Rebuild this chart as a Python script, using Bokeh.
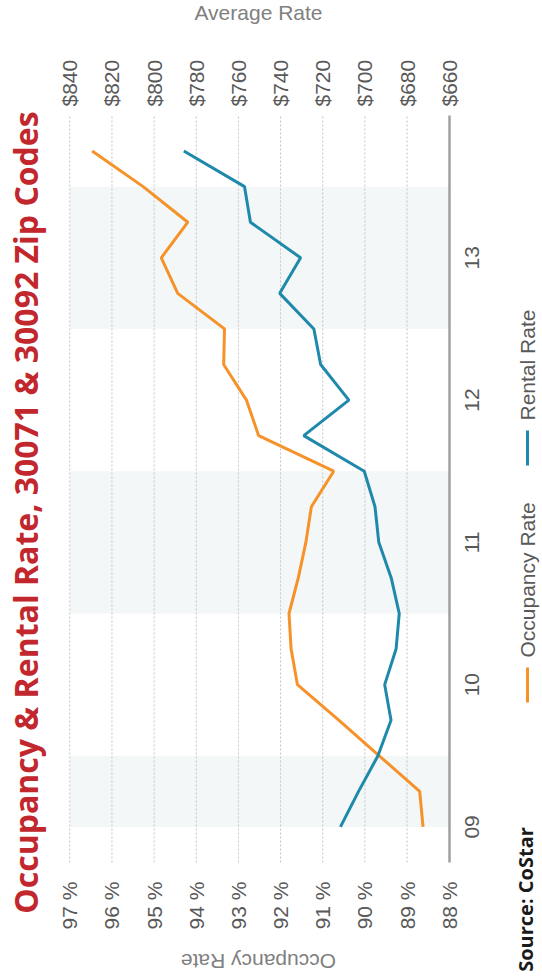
import math
from bokeh.plotting import figure
from bokeh.models import (Range1d, LinearAxis, FixedTicker, PrintfTickFormatter,
                          BoxAnnotation, Label)
from bokeh.core.properties import value
from bokeh.embed import file_html
from bokeh.resources import INLINE

# ---------------- data ----------------
quarters = ["2009 Q1", "2009 Q2", "2009 Q3", "2009 Q4",
            "2010 Q1", "2010 Q2", "2010 Q3", "2010 Q4",
            "2011 Q1", "2011 Q2", "2011 Q3", "2011 Q4",
            "2012 Q1", "2012 Q2", "2012 Q3", "2012 Q4",
            "2013 Q1", "2013 Q2", "2013 Q3", "2013 Q4"]
occupancy_rate = [88.62, 88.70, 89.66, 90.62, 91.60, 91.75, 91.80, 91.58,
                  91.40, 91.27, 90.74, 92.52, 92.81, 93.35, 93.33, 94.44,
                  94.83, 94.20, 95.26, 96.47]
rental_rate = [711.6, 703.0, 693.8, 687.6, 690.6, 685.2, 683.7, 687.5,
               693.4, 695.2, 700.3, 729.0, 707.6, 721.0, 724.2, 740.4,
               730.5, 754.3, 757.1, 785.9]
year_labels = ["09", "10", "11", "12", "13"]
occupancy_ticks = [88, 89, 90, 91, 92, 93, 94, 95, 96, 97]
rate_ticks = [660, 680, 700, 720, 740, 760, 780, 800, 820, 840]
series_names = ["Occupancy Rate", "Rental Rate"]

title_text = "Occupancy & Rental Rate, 30071 & 30092 Zip Codes"
source_text = "Source: CoStar"

ORANGE = "#F5922A"
BLUE = "#1F89AC"
TICK_COLOR = "#595959"
AXIS_TITLE_COLOR = "#808080"
FONT = "Liberation Sans"

# ---------------- layout (the whole canvas is the frame) ----------------
W, H = 542, 976
PL, PR, PT, PB = 69.3, 448.7, 115.0, 862.0     # plot-area edges in px

idx = list(range(len(quarters)))
year_pos = [4 * k for k in range(len(year_labels))]

OCC_HI, OCC_LO = occupancy_ticks[-1], occupancy_ticks[0]
RATE_HI, RATE_LO = rate_ticks[-1], rate_ticks[0]
IDX_LO, IDX_HI = -1, len(quarters)


def occ_at(px):
    return OCC_HI + (px - PL) * (OCC_LO - OCC_HI) / (PR - PL)


def rate_at(px):
    return RATE_HI + (px - PL) * (RATE_LO - RATE_HI) / (PR - PL)


def idx_at(py):
    return IDX_HI + (py - PT) * (IDX_LO - IDX_HI) / (PB - PT)


p = figure(width=W, height=H, output_backend="svg", toolbar_location=None,
           x_range=Range1d(occ_at(0), occ_at(W)),
           y_range=Range1d(idx_at(H), idx_at(0)),
           x_axis_location=None, y_axis_location=None,
           min_border=0, min_border_left=0, min_border_right=0,
           min_border_top=0, min_border_bottom=0)
p.extra_x_ranges = {"rate": Range1d(rate_at(0), rate_at(W))}
p.outline_line_color = None
p.background_fill_color = "white"
p.border_fill_color = "white"
p.grid.visible = False

# alternating year bands (09, 11, 13)
for k in range(0, len(year_labels), 2):
    c = year_pos[k]
    p.add_layout(BoxAnnotation(left=OCC_HI, right=OCC_LO,
                               bottom=max(c - 2, 0), top=c + 2,
                               fill_color="#F4F7F7", fill_alpha=1.0,
                               line_color=None, level="underlay"))

# dotted value grid lines
p.segment(x0=occupancy_ticks[1:], y0=[IDX_LO] * (len(occupancy_ticks) - 1),
          x1=occupancy_ticks[1:], y1=[IDX_HI] * (len(occupancy_ticks) - 1),
          line_color="#C4C4C4", line_width=1, line_dash="2 2")


def style_axis(ax, standoff):
    ax.major_label_orientation = math.pi / 2
    ax.major_label_standoff = standoff
    ax.major_label_text_font = FONT
    ax.major_label_text_font_size = "21px"
    ax.major_label_text_color = TICK_COLOR
    ax.major_tick_line_color = None
    ax.minor_tick_line_color = None


# occupancy axis (bottom of the plot area)
oa = LinearAxis(fixed_location=IDX_LO, bounds=(OCC_LO, OCC_HI),
                ticker=FixedTicker(ticks=occupancy_ticks),
                formatter=PrintfTickFormatter(format="%d %%"))
style_axis(oa, 13)
oa.axis_line_color = None
p.add_layout(oa, "below")

# rate axis (top of the plot area)
ra = LinearAxis(x_range_name="rate", fixed_location=IDX_HI,
                bounds=(RATE_LO, RATE_HI),
                ticker=FixedTicker(ticks=rate_ticks),
                formatter=PrintfTickFormatter(format="$%d"))
style_axis(ra, 3)
ra.axis_line_color = None
p.add_layout(ra, "above")

# time axis line (right edge of the plot area); year labels centred on their ticks
ta = LinearAxis(fixed_location=OCC_LO, bounds=(IDX_LO, IDX_HI),
                ticker=FixedTicker(ticks=[]))
style_axis(ta, 14)
ta.axis_line_color = "#A0A0A0"
ta.axis_line_width = 2.5
p.add_layout(ta, "right")
p.text(x=[occ_at(471)] * len(year_pos), y=year_pos, text=year_labels,
       angle=math.pi / 2, text_align="center", text_baseline="middle",
       text_font=value(FONT), text_font_size="21px", text_color=TICK_COLOR)

# series
p.line(occupancy_rate, idx, line_color=ORANGE, line_width=3)
p.line(rental_rate, idx, line_color=BLUE, line_width=3, x_range_name="rate")

# title (rotated); label anchors sit at the middle of the cap height
p.add_layout(Label(x=occ_at(25), y=idx_at(512), text=title_text, angle=math.pi / 2,
                   text_align="center", text_baseline="alphabetic",
                   text_font="Open Sans", text_font_style="bold",
                   text_font_size="32px", text_color="#C1272D"))

# axis titles
p.add_layout(Label(x=occ_at(258), y=idx_at(12), text="Average Rate",
                   text_align="center", text_baseline="alphabetic",
                   text_font=FONT, text_font_size="21px",
                   text_color=AXIS_TITLE_COLOR))
p.add_layout(Label(x=occ_at(258), y=idx_at(961), text="Occupancy Rate",
                   angle=math.pi, text_align="center", text_baseline="alphabetic",
                   text_font=FONT, text_font_size="21px",
                   text_color=AXIS_TITLE_COLOR))

# legend (rotated)
LEG_X = 527
legend_items = [(series_names[0], ORANGE, 702), (series_names[1], BLUE, 465)]
for name, col, ystart in legend_items:
    p.segment(x0=[occ_at(LEG_X)], y0=[idx_at(ystart)],
              x1=[occ_at(LEG_X)], y1=[idx_at(ystart - 35)],
              line_color=col, line_width=3)
    p.add_layout(Label(x=occ_at(LEG_X), y=idx_at(ystart - 45), text=name,
                       angle=math.pi / 2, text_align="left", text_baseline="middle",
                       text_font=FONT, text_font_size="21px",
                       text_color=TICK_COLOR))

# source
p.add_layout(Label(x=occ_at(525), y=idx_at(899), text=source_text, angle=math.pi / 2,
                   text_align="center", text_baseline="alphabetic",
                   text_font="Open Sans", text_font_style="bold",
                   text_font_size="20px", text_color="#1A1A1A"))

open("out.html", "w").write(file_html(p, INLINE))
